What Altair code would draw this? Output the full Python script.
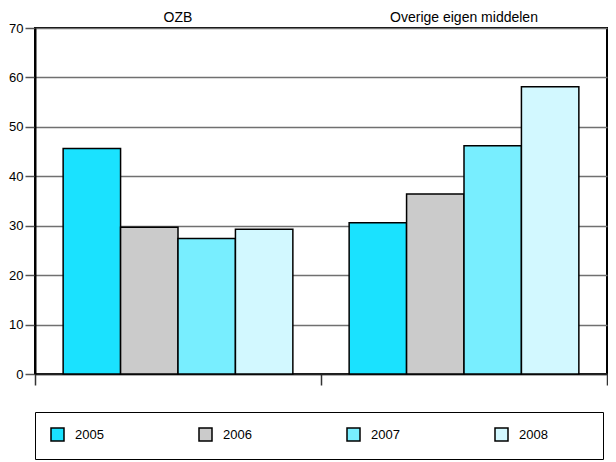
import altair as alt
import pandas as pd

groups = ["OZB", "Overige eigen middelen"]
years = ["2005", "2006", "2007", "2008"]
ozb = [45.6, 29.7, 27.4, 29.3]
overige = [30.6, 36.4, 46.2, 58.1]
colors = ["#1AE2FF", "#CBCBCB", "#78EEFF", "#D2F8FF"]
y_ticks = [0, 10, 20, 30, 40, 50, 60, 70]

rows = []
for g, vals in zip(groups, [ozb, overige]):
    for yr, v in zip(years, vals):
        rows.append({"groep": g, "jaar": yr, "waarde": v})
df = pd.DataFrame(rows)
df_groups = pd.DataFrame({"groep": groups})

FONT = "Liberation Sans"
PAD = "\u2800" * 4

x_enc = alt.X("groep:N", sort=groups, title=None,
              scale=alt.Scale(paddingInner=0, paddingOuter=0),
              axis=alt.Axis(orient="bottom", labels=False, ticks=True, tickBand="extent",
                            tickSize=11, tickColor="#333333", tickWidth=1.5,
                            domain=True, domainColor="#222222", domainWidth=1.5))

y_enc = alt.Y("waarde:Q", title=None,
              scale=alt.Scale(domain=[0, 70], nice=False),
              axis=alt.Axis(values=y_ticks, grid=True, gridColor="#707070", gridWidth=1.5,
                            tickSize=10, tickColor="#555555", tickWidth=1.5,
                            domainColor="black", domainWidth=2,
                            labelFontSize=13, labelColor="black", labelPadding=2,
                            labelFont=FONT))

bars = alt.Chart(df).mark_bar(stroke="black", strokeWidth=1.5).encode(
    x=x_enc,
    xOffset=alt.XOffset("jaar:N", sort=years,
                        scale=alt.Scale(paddingInner=0, paddingOuter=0.49)),
    y=y_enc,
    color=alt.Color("jaar:N", sort=years,
                    scale=alt.Scale(domain=years, range=colors),
                    legend=alt.Legend(title=None, orient="bottom", direction="horizontal",
                                      columns=4, columnPadding=92, offset=26,
                                      strokeColor="black", padding=15,
                                      symbolType="square", symbolSize=169,
                                      symbolStrokeColor="black", symbolStrokeWidth=1.5,
                                      labelFontSize=13, labelFont=FONT, labelColor="black",
                                      labelOffset=10,
                                      labelExpr="datum.label == '2008' ? datum.label + '" + PAD + "' : datum.label")),
)

labels = alt.Chart(df_groups).mark_text(
    font=FONT, fontSize=14, color="black", baseline="bottom", dy=-3
).encode(
    x=alt.X("groep:N", sort=groups),
    y=alt.value(0),
    text="groep:N",
)

chart = alt.layer(bars, labels).properties(
    width=572, height=346, padding={"top": 3, "left": 0, "right": 0, "bottom": 0}
).configure_view(stroke="black", strokeWidth=2)

chart.save("out.html", embed_options={"renderer": "svg", "actions": False})
